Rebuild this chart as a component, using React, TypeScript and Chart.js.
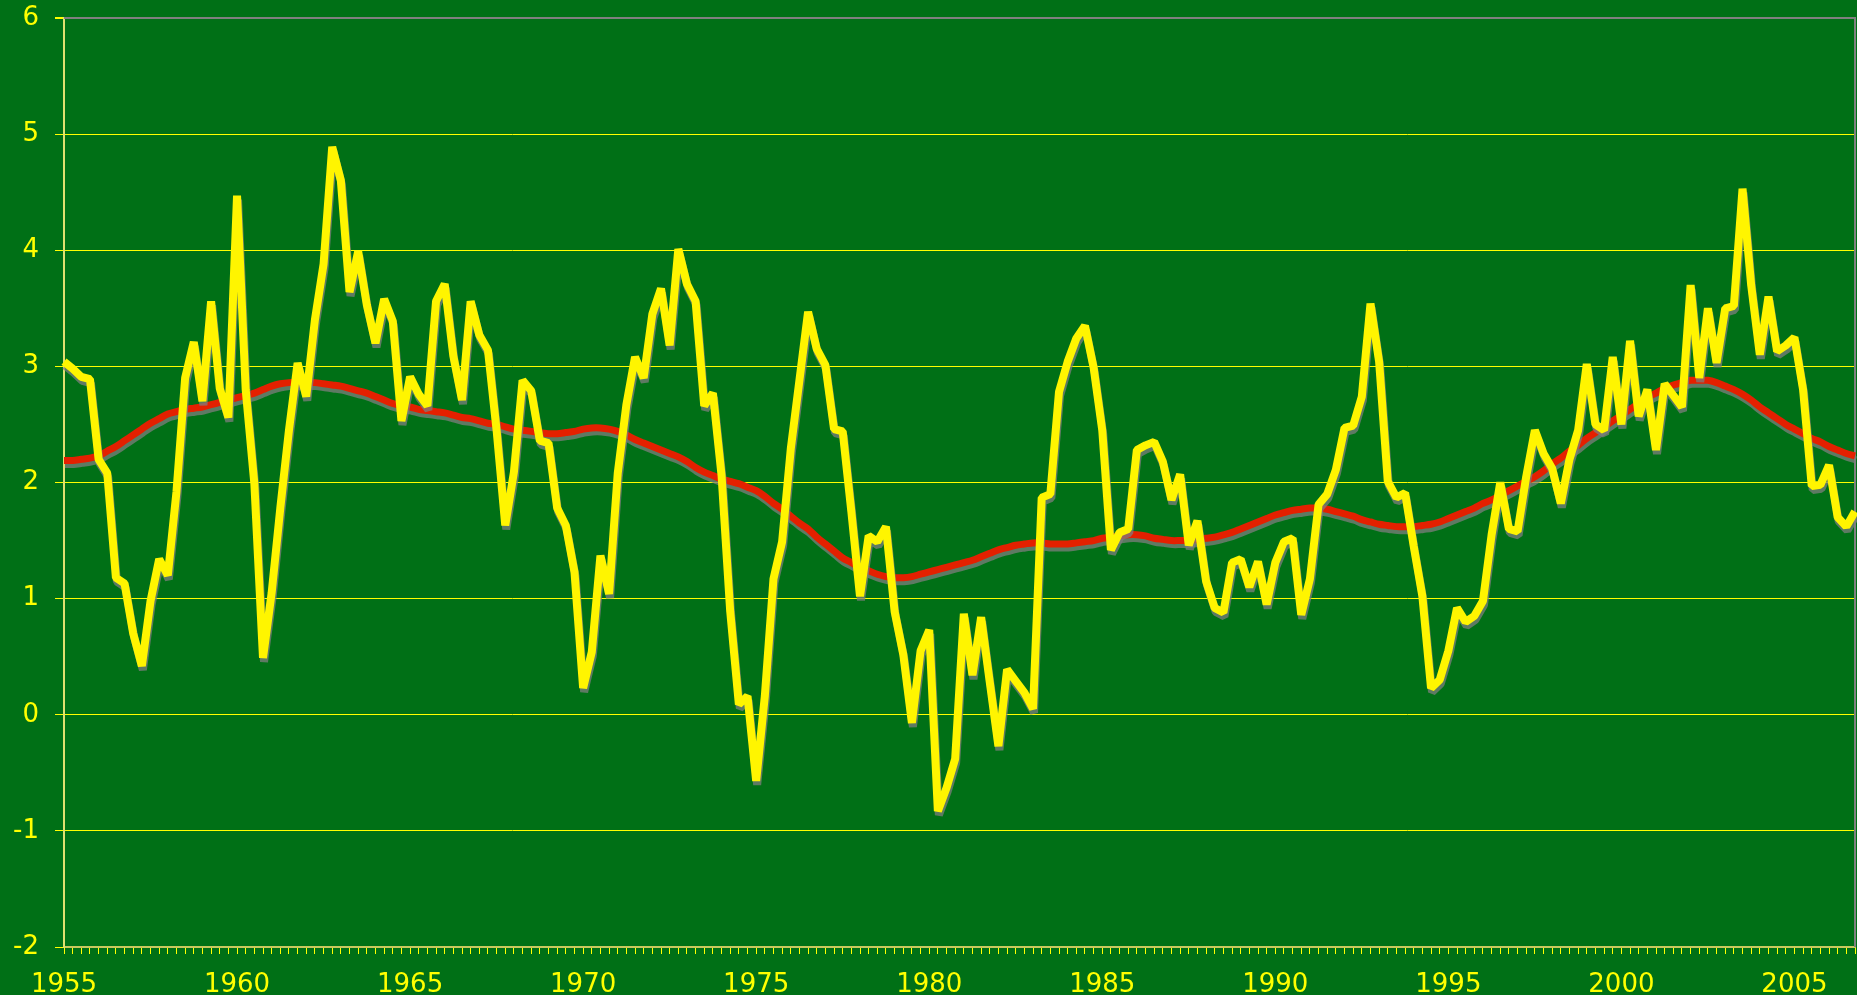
import React, { useEffect, useRef } from 'react';
import { Chart, registerables } from 'chart.js';

Chart.register(...registerables);

// Quarterly observations, 1955 Q1 .. 2006 Q4
const START_YEAR = 1955;

const quarterlySeries = [
  3.04, 2.98, 2.91, 2.89, 2.20, 2.08, 1.18, 1.13, 0.70, 0.42,
  0.98, 1.34, 1.20, 1.92, 2.90, 3.21, 2.70, 3.56, 2.81, 2.56,
  4.47, 2.80, 1.99, 0.49, 1.05, 1.78, 2.45, 3.03, 2.74, 3.40,
  3.88, 4.89, 4.60, 3.64, 3.99, 3.53, 3.20, 3.58, 3.39, 2.53,
  2.91, 2.76, 2.66, 3.56, 3.71, 3.09, 2.71, 3.56, 3.27, 3.14,
  2.45, 1.63, 2.09, 2.88, 2.79, 2.36, 2.34, 1.78, 1.63, 1.23,
  0.23, 0.54, 1.37, 1.04, 2.08, 2.67, 3.08, 2.90, 3.45, 3.67,
  3.18, 4.01, 3.71, 3.56, 2.66, 2.77, 2.06, 0.89, 0.09, 0.16,
  -0.57, 0.16, 1.17, 1.49, 2.29, 2.88, 3.47, 3.15, 3.01, 2.46,
  2.44, 1.75, 1.02, 1.54, 1.49, 1.62, 0.89, 0.52, -0.07, 0.55,
  0.73, -0.83, -0.63, -0.38, 0.87, 0.34, 0.84, 0.28, -0.27, 0.39,
  0.29, 0.19, 0.05, 1.87, 1.90, 2.78, 3.04, 3.24, 3.35, 2.99,
  2.45, 1.42, 1.57, 1.60, 2.28, 2.32, 2.35, 2.18, 1.85, 2.07,
  1.46, 1.67, 1.15, 0.92, 0.88, 1.31, 1.34, 1.10, 1.32, 0.95,
  1.31, 1.49, 1.52, 0.86, 1.17, 1.81, 1.90, 2.11, 2.47, 2.49,
  2.74, 3.54, 3.04, 2.01, 1.87, 1.91, 1.45, 1.02, 0.23, 0.30,
  0.55, 0.92, 0.80, 0.85, 0.98, 1.55, 2.00, 1.60, 1.58, 2.05,
  2.45, 2.25, 2.12, 1.82, 2.20, 2.45, 3.02, 2.50, 2.45, 3.08,
  2.50, 3.22, 2.57, 2.80, 2.28, 2.85, 2.75, 2.65, 3.70, 2.90,
  3.50, 3.03, 3.50, 3.52, 4.53, 3.70, 3.10, 3.60, 3.13, 3.18,
  3.25, 2.80, 1.97, 1.98, 2.15, 1.70, 1.62, 1.75,
];

const trendSeries = [
  2.19, 2.19, 2.20, 2.21, 2.23, 2.27, 2.31, 2.36, 2.41, 2.46,
  2.51, 2.55, 2.59, 2.61, 2.63, 2.64, 2.65, 2.67, 2.69, 2.71,
  2.73, 2.75, 2.77, 2.80, 2.83, 2.85, 2.86, 2.86, 2.86, 2.86,
  2.85, 2.84, 2.83, 2.81, 2.79, 2.77, 2.74, 2.71, 2.68, 2.66,
  2.65, 2.63, 2.62, 2.61, 2.60, 2.58, 2.56, 2.55, 2.53, 2.51,
  2.50, 2.48, 2.46, 2.45, 2.44, 2.43, 2.42, 2.42, 2.43, 2.44,
  2.46, 2.47, 2.47, 2.46, 2.44, 2.41, 2.37, 2.34, 2.31, 2.28,
  2.25, 2.22, 2.18, 2.13, 2.09, 2.06, 2.03, 2.01, 1.99, 1.96,
  1.93, 1.88, 1.82, 1.77, 1.71, 1.65, 1.60, 1.53, 1.47, 1.41,
  1.35, 1.31, 1.27, 1.24, 1.21, 1.19, 1.18, 1.18, 1.19, 1.21,
  1.23, 1.25, 1.27, 1.29, 1.31, 1.33, 1.36, 1.39, 1.42, 1.44,
  1.46, 1.47, 1.48, 1.48, 1.47, 1.47, 1.47, 1.48, 1.49, 1.50,
  1.52, 1.53, 1.54, 1.55, 1.55, 1.54, 1.52, 1.51, 1.50, 1.50,
  1.50, 1.51, 1.52, 1.53, 1.55, 1.57, 1.60, 1.63, 1.66, 1.69,
  1.72, 1.74, 1.76, 1.77, 1.78, 1.78, 1.77, 1.75, 1.73, 1.71,
  1.68, 1.66, 1.64, 1.63, 1.62, 1.62, 1.62, 1.63, 1.64, 1.66,
  1.69, 1.72, 1.75, 1.78, 1.82, 1.85, 1.89, 1.93, 1.97, 2.01,
  2.05, 2.10, 2.16, 2.21, 2.27, 2.32, 2.38, 2.43, 2.48, 2.53,
  2.58, 2.63, 2.68, 2.73, 2.77, 2.81, 2.84, 2.86, 2.88, 2.88,
  2.88, 2.86, 2.83, 2.80, 2.76, 2.71, 2.65, 2.60, 2.55, 2.50,
  2.46, 2.42, 2.38, 2.35, 2.31, 2.28, 2.25, 2.23,
];

const quarterNames = ['Q1', 'Q2', 'Q3', 'Q4'];
const categories = quarterlySeries.map(
  (_, i) => `${START_YEAR + Math.floor(i / 4)} ${quarterNames[i % 4]}`
);
const LABEL_EVERY = 20; // one year label every 5 years

const Y_MIN = -2;
const Y_MAX = 6;

const BG = '#007016';
const YELLOW = '#FFFF00';
const FONT_FAMILY = "'DejaVu Sans', Verdana, sans-serif";
const FONT = { family: FONT_FAMILY, size: 26 };

export default function App() {
  const canvasRef = useRef<HTMLCanvasElement>(null);

  useEffect(() => {
    document.body.style.margin = '0';
    document.body.style.background = BG;
    const canvas = canvasRef.current;
    if (!canvas) return;

    const shadowPlugin = {
      id: 'lineShadow',
      beforeDatasetDraw(chart: any) {
        const ctx = chart.ctx;
        ctx.save();
        ctx.shadowColor = 'rgba(125,125,125,0.75)';
        ctx.shadowBlur = 0;
        ctx.shadowOffsetX = 1;
        ctx.shadowOffsetY = 4;
      },
      afterDatasetDraw(chart: any) {
        chart.ctx.restore();
      },
    };

    const framePlugin = {
      id: 'plotFrame',
      beforeDatasetsDraw(chart: any) {
        const { ctx, chartArea } = chart;
        ctx.save();
        ctx.strokeStyle = '#808080';
        ctx.lineWidth = 2;
        ctx.beginPath();
        ctx.moveTo(chartArea.left, chartArea.top);
        ctx.lineTo(chartArea.right, chartArea.top);
        ctx.lineTo(chartArea.right, chartArea.bottom);
        ctx.stroke();
        ctx.restore();
      },
    };

    // Year labels centred under their category tick (every 20th quarter)
    const yearLabelPlugin = {
      id: 'yearLabels',
      afterDraw(chart: any) {
        const xs = chart.scales.x;
        const ctx = chart.ctx;
        ctx.save();
        ctx.fillStyle = YELLOW;
        ctx.font = `26px ${FONT_FAMILY}`;
        ctx.textAlign = 'left';
        ctx.textBaseline = 'alphabetic';
        categories.forEach((c, i) => {
          if (i % LABEL_EVERY === 0) {
            const text = c.slice(0, 4);
            const w = ctx.measureText(text).width;
            const cx = xs.getPixelForValue(i);
            ctx.fillText(text, cx - w / 2, 992);
          }
        });
        ctx.restore();
      },
    };

    const chart = new Chart(canvas, {
      type: 'line',
      data: {
        labels: categories,
        datasets: [
          {
            label: 'Quarterly',
            data: quarterlySeries,
            borderColor: '#FFF500',
            borderWidth: 8,
            pointRadius: 0,
            tension: 0,
            borderJoinStyle: 'bevel',
            borderCapStyle: 'butt',
            fill: false,
          },
          {
            label: 'Trend',
            data: trendSeries,
            borderColor: '#E42000',
            borderWidth: 7,
            pointRadius: 0,
            tension: 0.3,
            fill: false,
          },
        ],
      },
      options: {
        responsive: false,
        animation: false,
        events: [],
        layout: { padding: { top: 18, right: 2, left: 0, bottom: 0 } },
        plugins: {
          legend: { display: false },
          tooltip: { enabled: false },
        },
        scales: {
          x: {
            type: 'category',
            offset: false,
            grid: {
              display: true,
              drawOnChartArea: false,
              drawTicks: true,
              tickLength: 7,
              tickColor: YELLOW,
              color: YELLOW,
              lineWidth: 1,
            },
            border: { display: true, color: '#C8C860', width: 2 },
            ticks: {
              autoSkip: false,
              maxRotation: 0,
              minRotation: 0,
              color: YELLOW,
              font: FONT,
              padding: 11,
              callback: () => '',
            },
            afterFit: (scale: any) => {
              scale.height = 48;
              scale.paddingLeft = 0;
              scale.paddingRight = 0;
            },
          },
          y: {
            min: Y_MIN,
            max: Y_MAX,
            ticks: {
              stepSize: 1,
              color: YELLOW,
              font: FONT,
              padding: 16,
            },
            grid: {
              color: (c: any) => (c.tick && c.tick.value === Y_MAX ? '#808080' : YELLOW),
              lineWidth: (c: any) => (c.tick && c.tick.value === Y_MAX ? 2 : 1),
              tickLength: 9,
              tickColor: YELLOW,
            },
            border: { display: true, color: '#E0E070', width: 2 },
            afterFit: (scale: any) => {
              scale.width = 64;
              scale.paddingTop = 0;
              scale.paddingBottom = 0;
            },
          },
        },
      },
      plugins: [shadowPlugin, framePlugin, yearLabelPlugin],
    });

    return () => chart.destroy();
  }, []);

  return (
    <div style={{ width: 1857, height: 995, background: BG }}>
      <canvas
        ref={canvasRef}
        width={1857}
        height={995}
        style={{ display: 'block', width: 1857, height: 995 }}
      />
    </div>
  );
}
